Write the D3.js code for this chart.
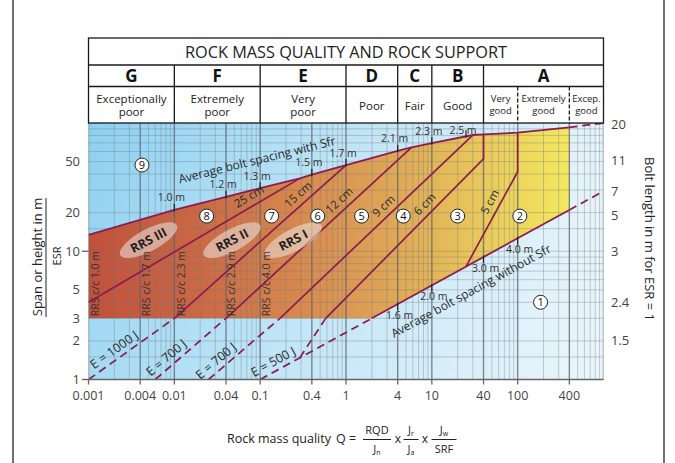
<!DOCTYPE html>
<html><head><meta charset="utf-8">
<script src="https://cdn.jsdelivr.net/npm/d3@7"></script>
<style>
html,body{margin:0;padding:0;background:#fff;}
svg{display:block;font-family:"Open Sans",sans-serif;}
</style></head><body>
<svg id="chart" width="675" height="463"></svg>
<script>
// ---------- data ----------
const qTicks = [0.001, 0.004, 0.01, 0.04, 0.1, 0.4, 1, 4, 10, 40, 100, 400];
const qTickLabels = ["0.001", "0.004", "0.01", "0.04", "0.1", "0.4", "1", "4", "10", "40", "100", "400"];
const spanTicks = [1, 2, 3, 5, 10, 20, 50];
const spanTicksMarked = [1, 10];
const boltLengthLabels = ["1.5", "2.4", "3", "5", "7", "11", "20"];
const boltLengthSpan = [2, 4, 10, 19, 29, 51, 97];
const gridSpans = [1, 1.5, 2, 3, 4, 5, 6, 7, 8, 9, 10, 15, 20, 30, 40, 50, 60, 70, 80, 90, 100];

const classLetters = ["G", "F", "E", "D", "C", "B", "A"];
const classEdges = [0.001, 0.01, 0.1, 1, 4, 10, 40, 1000];
const classNames = [["Exceptionally", "poor"], ["Extremely", "poor"], ["Very", "poor"], ["Poor"], ["Fair"], ["Good"]];
const classAEdges = [40, 100, 400, 1000];
const classANames = [["Very", "good"], ["Extremely", "good"], ["Excep.", "good"]];

// boundaries as [Q, span/ESR]
const withSfr = [[0.001, 13.4], [0.01, 21], [0.04, 26.5], [0.1, 31], [0.29, 37], [0.4, 39.5], [1, 47], [4, 60.5], [5.8, 64.7], [10, 69.6], [30, 80.6], [40, 81.6], [100, 84], [400, 92.6]];
const withSfrExt = [[400, 92.6], [1000, 100]];
const withoutSfr = [[2, 3], [400, 21]];
const withoutSfrLow = [[0.1, 1], [2, 3]];
const withoutSfrHigh = [[400, 21], [1000, 29.4]];
const reinforcedFloor = 3;

const withSfrTickQ = [0.01, 0.04, 0.1, 0.4, 1, 4, 10, 25];
const withSfrTickLabels = ["1.0 m", "1.2 m", "1.3 m", "1.5 m", "1.7 m", "2.1 m", "2.3 m", "2.5 m"];
const withoutSfrTickQ = [4, 10, 40, 100];
const withoutSfrTickLabels = ["1.6 m", "2.0 m", "3.0 m", "4.0 m"];

// sprayed concrete thickness boundaries
const line25cm = [[0.001, 4.0], [0.29, 37]];
const line15cm = [[0.01, 3], [1, 47]];
const line12cm = [[0.04, 3], [5.8, 64.7]];
const line9cm = [[0.17, 3], [30, 80.6]];
const line6cm = [[0.58, 3], [40, 52.6], [40, 81.6]];
const line5cm = [[25, 7.6], [100, 41.7], [100, 84]];
const thicknessLabels = ["25 cm", "15 cm", "12 cm", "9 cm", "6 cm", "5 cm"];
const thicknessLabelQ = [0.085, 0.33, 1.0, 3.3, 10, 60];

// energy absorption lines below span/ESR = 3
const energy1000 = [[0.001, 1], [0.01, 3]];
const energy700a = [[0.006, 1], [0.04, 3]];
const energy700b = [[0.025, 1], [0.17, 3]];
const energy500 = [[0.29, 1.48], [0.58, 3]];
const energyLabels = ["E = 1000 J", "E = 700 J", "E = 700 J", "E = 500 J"];
const energyLabelQ = [0.0023, 0.0095, 0.036, 0.16];

// support categories
const categoryIds = [1, 2, 3, 4, 5, 6, 7, 8, 9];
const categoryQ = [185, 106, 20, 4.65, 1.52, 0.468, 0.136, 0.0238, 0.0042];
const categorySpan = [4.0, 18.8, 18.8, 18.8, 18.8, 18.8, 18.8, 18.8, 47];

const rrsNames = ["RRS III", "RRS II", "RRS I"];
const rrsQ = [0.005, 0.047, 0.243];
const rrsSpan = [12.2, 12.2, 12.2];
const rrsSpacing = ["1.0 m", "1.7 m", "2.3 m", "2.9 m", "4.0 m"];
const rrsSpacingQ = [0.0012, 0.0048, 0.0122, 0.0466, 0.117];

// ---------- layout ----------
const plot = {left: 88.5, right: 603.5, top: 123, bottom: 379.5};
const head = {top: 38, row1: 65, row2: 86.5};
const x = d3.scaleLog().domain([0.001, 1000]).range([plot.left, plot.right]);
const y = d3.scaleLog().domain([1, 100]).range([plot.bottom, plot.top]);
const svg = d3.select("#chart");
const defs = svg.append("defs");
const PURPLE = "#8a1d50";

function gradient(id, x1, x2, y1, y2, stops) {
  const g = defs.append("linearGradient").attr("id", id).attr("gradientUnits", "userSpaceOnUse")
    .attr("x1", x1).attr("x2", x2).attr("y1", y1).attr("y2", y2);
  stops.forEach(s => g.append("stop").attr("offset", s[0]).attr("stop-color", s[1]).attr("stop-opacity", s[2] === undefined ? 1 : s[2]));
}
gradient("bgBlue", plot.left, plot.right, 0, 0, [[0, "#8dd0f0"], [0.45, "#b9e2f6"], [1, "#e6f3fa"]]);
gradient("bgFade", 0, 0, plot.top, plot.bottom, [[0, "#ffffff", 0], [1, "#ffffff", 0.22]]);
gradient("warm", plot.left, x(400), 0, 0, [[0, "#c1503b"], [0.23, "#cb6844"], [0.44, "#d7894e"], [0.57, "#dc9d55"], [0.71, "#e2b457"], [0.82, "#e9c95b"], [1, "#f3e95f"]]);
defs.append("clipPath").attr("id", "plotClip").append("rect")
  .attr("x", plot.left).attr("y", plot.top).attr("width", plot.right - plot.left).attr("height", plot.bottom - plot.top);

// outer frame
svg.append("line").attr("x1", 13).attr("x2", 13).attr("y1", 0).attr("y2", 463).attr("stroke", "#222").attr("stroke-width", 1.3);
svg.append("line").attr("x1", 664).attr("x2", 664).attr("y1", 0).attr("y2", 463).attr("stroke", "#222").attr("stroke-width", 1.3);

const body = svg.append("g").attr("clip-path", "url(#plotClip)");
body.append("rect").attr("x", plot.left).attr("y", plot.top).attr("width", plot.right - plot.left).attr("height", plot.bottom - plot.top).attr("fill", "url(#bgBlue)");
body.append("rect").attr("x", plot.left).attr("y", plot.top).attr("width", plot.right - plot.left).attr("height", plot.bottom - plot.top).attr("fill", "url(#bgFade)");

const line = d3.line().x(d => x(d[0])).y(d => y(d[1]));

// reinforced support zone
const zone = withSfr.concat(withoutSfr.slice().reverse(), [[0.001, reinforcedFloor]]);
body.append("path").attr("d", line(zone) + "Z").attr("fill", "url(#warm)");

// grid
const gridQ = [];
for (let k = -3; k <= 2; k++) for (let n = 1; n <= 9; n++) gridQ.push(+(n * Math.pow(10, k)).toPrecision(3));
gridQ.push(1000);
const isMajor = q => qTicks.some(t => Math.abs(t - q) / t < 1e-6) || q === 0.001 || q === 1000;
body.selectAll("line.vg").data(gridQ).join("line").attr("class", "vg")
  .attr("x1", d => x(d)).attr("x2", d => x(d)).attr("y1", plot.top).attr("y2", plot.bottom)
  .attr("stroke", d => isMajor(d) ? "#5d646c" : "#6e7780")
  .attr("stroke-opacity", d => isMajor(d) ? 0.75 : 0.35)
  .attr("stroke-width", d => isMajor(d) ? 1.4 : 1);
body.selectAll("line.hg").data(gridSpans).join("line").attr("class", "hg")
  .attr("x1", plot.left).attr("x2", plot.right).attr("y1", d => y(d)).attr("y2", d => y(d))
  .attr("stroke", "#6e7780").attr("stroke-opacity", 0.35).attr("stroke-width", 1);

// boundary and thickness lines
function drawLine(pts, dashed, w) {
  body.append("path").attr("d", line(pts)).attr("fill", "none").attr("stroke", PURPLE)
    .attr("stroke-width", w || 1.7).attr("stroke-dasharray", dashed ? "8,5" : null);
}
[line25cm, line15cm, line12cm, line9cm, line6cm, line5cm].forEach(p => drawLine(p, false));
[energy1000, energy700a, energy700b, energy500].forEach(p => drawLine(p, true));
drawLine(withSfr, false, 1.8);
drawLine(withSfrExt, true, 1.8);
drawLine(withoutSfr, false, 1.8);
drawLine(withoutSfrLow, true, 1.8);
drawLine(withoutSfrHigh, true, 1.8);

// point on a polyline (log-log interpolation) with local angle
function pointOn(pts, q) {
  for (let i = 0; i < pts.length - 1; i++) {
    const a = pts[i], b = pts[i + 1];
    if (a[0] === b[0]) continue;
    if (q >= Math.min(a[0], b[0]) && q <= Math.max(a[0], b[0])) {
      const t = (Math.log(q) - Math.log(a[0])) / (Math.log(b[0]) - Math.log(a[0]));
      const s = Math.exp(Math.log(a[1]) + t * (Math.log(b[1]) - Math.log(a[1])));
      const ang = Math.atan2(y(b[1]) - y(a[1]), x(b[0]) - x(a[0])) * 180 / Math.PI;
      return {px: x(q), py: y(s), ang};
    }
  }
  return null;
}
function lineLabel(pts, q, text, off, size, weight) {
  const p = pointOn(pts, q);
  svg.append("text").attr("transform", `translate(${p.px},${p.py}) rotate(${p.ang})`)
    .attr("y", off).attr("text-anchor", "middle").attr("font-size", size).attr("fill", "#2a2a2a")
    .attr("font-weight", weight || 400).text(text);
}

// bolt spacing ticks
withSfrTickQ.forEach((q, i) => {
  const p = pointOn(withSfr, q);
  svg.append("line").attr("x1", p.px).attr("x2", p.px).attr("y1", p.py - 6).attr("y2", p.py + 1.5).attr("stroke", "#222").attr("stroke-width", 1.2);
  svg.append("text").attr("x", p.px - 3).attr("y", Math.max(p.py - 8.5, plot.top + 10.5)).attr("text-anchor", "middle")
    .attr("font-size", 10.5).attr("fill", "#333").text(withSfrTickLabels[i]);
});
withoutSfrTickQ.forEach((q, i) => {
  const p = pointOn(withoutSfr, q);
  svg.append("line").attr("x1", p.px).attr("x2", p.px).attr("y1", p.py - 1.5).attr("y2", p.py + 6).attr("stroke", "#222").attr("stroke-width", 1.2);
  svg.append("text").attr("x", p.px + 2).attr("y", p.py + 14.5).attr("text-anchor", "middle").attr("font-size", 10.5).attr("fill", "#333").text(withoutSfrTickLabels[i]);
});

lineLabel(withSfr, 0.11, "Average bolt spacing with Sfr", -24, 12);
lineLabel(withoutSfr, 21, "Average bolt spacing without Sfr", 28, 12);

[line25cm, line15cm, line12cm, line9cm, line6cm, line5cm].forEach((p, i) => lineLabel(p, thicknessLabelQ[i], thicknessLabels[i], -6, 11.5));
[energy1000, energy700a, energy700b, withoutSfrLow].forEach((p, i) => lineLabel(p, energyLabelQ[i], energyLabels[i], -5, 12.5));

// RRS ribs
rrsNames.forEach((n, i) => {
  const g = svg.append("g").attr("transform", `translate(${x(rrsQ[i])},${y(rrsSpan[i])}) rotate(-28)`);
  g.append("ellipse").attr("rx", 32).attr("ry", 11).attr("fill", "#ece6e0").attr("fill-opacity", 0.55);
  g.append("text").attr("y", 4.5).attr("text-anchor", "middle").attr("font-size", 12.5).attr("font-weight", 700)
    .attr("fill", "#1e1e1e").text(n);
});
rrsSpacing.forEach((s, i) => {
  svg.append("text").attr("transform", `translate(${x(rrsSpacingQ[i]) + 3.5},${y(reinforcedFloor) - 2}) rotate(-90)`)
    .attr("font-size", 10.5).attr("fill", "#333").text("RRS  c/c " + s);
});

// category markers
categoryIds.forEach((c, i) => {
  const g = svg.append("g").attr("transform", `translate(${x(categoryQ[i])},${y(categorySpan[i])})`);
  g.append("circle").attr("r", 7).attr("fill", "#fff").attr("stroke", "#222").attr("stroke-width", 1);
  g.append("text").attr("y", 4).attr("text-anchor", "middle").attr("font-size", 11).attr("fill", "#111").text(c);
});

// axes
svg.append("line").attr("x1", plot.left).attr("x2", plot.right).attr("y1", plot.bottom).attr("y2", plot.bottom).attr("stroke", "#666").attr("stroke-width", 1.3);
svg.selectAll("line.xt").data(qTicks).join("line").attr("class", "xt")
  .attr("x1", d => x(d)).attr("x2", d => x(d)).attr("y1", plot.bottom).attr("y2", plot.bottom + 5).attr("stroke", "#666").attr("stroke-width", 1.3);
svg.selectAll("text.xl").data(qTicks).join("text").attr("class", "xl")
  .attr("x", d => x(d)).attr("y", 400).attr("text-anchor", "middle").attr("font-size", 12.5).attr("fill", "#444")
  .text((d, i) => qTickLabels[i]);
svg.selectAll("text.yl").data(spanTicks).join("text").attr("class", "yl")
  .attr("x", 80).attr("y", d => y(d) + 4.5).attr("text-anchor", "end").attr("font-size", 13).attr("fill", "#444").text(d => d);
svg.selectAll("line.yt").data(spanTicksMarked).join("line").attr("class", "yt")
  .attr("x1", 82).attr("x2", plot.left).attr("y1", d => y(d)).attr("y2", d => y(d)).attr("stroke", "#555").attr("stroke-width", 1.2);
svg.selectAll("text.rl").data(boltLengthSpan).join("text").attr("class", "rl")
  .attr("x", 611).attr("y", d => y(d) + 4.5).attr("font-size", 13).attr("fill", "#444").text((d, i) => boltLengthLabels[i]);

// axis titles
svg.append("text").attr("transform", "translate(42,257) rotate(-90)").attr("text-anchor", "middle").attr("font-size", 13).attr("fill", "#222").text("Span or height in m");
svg.append("line").attr("x1", 46).attr("x2", 46).attr("y1", 198).attr("y2", 317).attr("stroke", "#222").attr("stroke-width", 1);
svg.append("text").attr("transform", "translate(61,256) rotate(-90)").attr("text-anchor", "middle").attr("font-size", 11).attr("fill", "#222").text("ESR");
svg.append("text").attr("transform", "translate(645,239) rotate(90)").attr("text-anchor", "middle").attr("font-size", 13).attr("fill", "#222").text("Bolt length in m for ESR = 1");

// formula
const f = svg.append("g").attr("fill", "#222");
f.append("text").attr("x", 331).attr("y", 443).attr("text-anchor", "end").attr("font-size", 12.5).text("Rock mass quality");
f.append("text").attr("x", 336).attr("y", 443).attr("font-size", 12.5).text("Q =");
function frac(cx, half, numParts, denParts) {
  const n = f.append("text").attr("x", cx).attr("y", 434).attr("text-anchor", "middle").attr("font-size", 11);
  numParts.forEach(p => n.append("tspan").attr("font-size", p[1] ? 7 : 11).attr("dy", p[1] ? 2 : null).text(p[0]));
  f.append("line").attr("x1", cx - half).attr("x2", cx + half).attr("y1", 439.5).attr("y2", 439.5).attr("stroke", "#222").attr("stroke-width", 1);
  const d = f.append("text").attr("x", cx).attr("y", 453).attr("text-anchor", "middle").attr("font-size", 11);
  denParts.forEach(p => d.append("tspan").attr("font-size", p[1] ? 7 : 11).attr("dy", p[1] ? 2 : null).text(p[0]));
}
frac(377, 14, [["RQD"]], [["J"], ["n", 1]]);
f.append("text").attr("x", 398).attr("y", 443).attr("text-anchor", "middle").attr("font-size", 12).text("x");
frac(411, 7.5, [["J"], ["r", 1]], [["J"], ["a", 1]]);
f.append("text").attr("x", 425).attr("y", 443).attr("text-anchor", "middle").attr("font-size", 12).text("x");
frac(444, 12.5, [["J"], ["w", 1]], [["SRF"]]);

// header table
const H = svg.append("g");
const hs = {stroke: "#1a1a1a", "stroke-width": 1.3};
function hline(x1, x2, y1, y2, dash) {
  H.append("line").attr("x1", x1).attr("x2", x2).attr("y1", y1).attr("y2", y2).attr("stroke", hs.stroke)
    .attr("stroke-width", hs["stroke-width"]).attr("stroke-dasharray", dash || null);
}
H.append("rect").attr("x", plot.left).attr("y", head.top).attr("width", plot.right - plot.left).attr("height", plot.top - head.top)
  .attr("fill", "#fff").attr("stroke", hs.stroke).attr("stroke-width", hs["stroke-width"]);
hline(plot.left, plot.right, head.row1, head.row1);
hline(plot.left, plot.right, head.row2, head.row2);
H.append("text").attr("x", (plot.left + plot.right) / 2).attr("y", 57.5).attr("text-anchor", "middle")
  .attr("font-size", 15.5).attr("fill", "#222").attr("textLength", 322).attr("lengthAdjust", "spacingAndGlyphs")
  .text("ROCK MASS QUALITY AND ROCK SUPPORT");
classLetters.forEach((L, i) => {
  const a = x(classEdges[i]), b = x(classEdges[i + 1]);
  if (i > 0) hline(a, a, head.row1, plot.top);
  H.append("text").attr("x", (a + b) / 2).attr("y", 82).attr("text-anchor", "middle").attr("font-size", 17)
    .attr("font-weight", 700).attr("fill", "#111").text(L);
  if (i < classNames.length) {
    const lines = classNames[i];
    lines.forEach((t, j) => {
      H.append("text").attr("x", (a + b) / 2).attr("y", lines.length === 1 ? 110 : 102.5 + j * 13.5)
        .attr("text-anchor", "middle").attr("font-size", 11.5).attr("fill", "#222").text(t);
    });
  }
});
classANames.forEach((lines, i) => {
  const a = x(classAEdges[i]), b = x(classAEdges[i + 1]);
  if (i > 0) hline(a, a, head.row2, plot.top, "4,2");
  lines.forEach((t, j) => {
    H.append("text").attr("x", (a + b) / 2).attr("y", 101.5 + j * 12.5).attr("text-anchor", "middle")
      .attr("font-size", 9.5).attr("fill", "#222").text(t);
  });
});
</script>
</body></html>
